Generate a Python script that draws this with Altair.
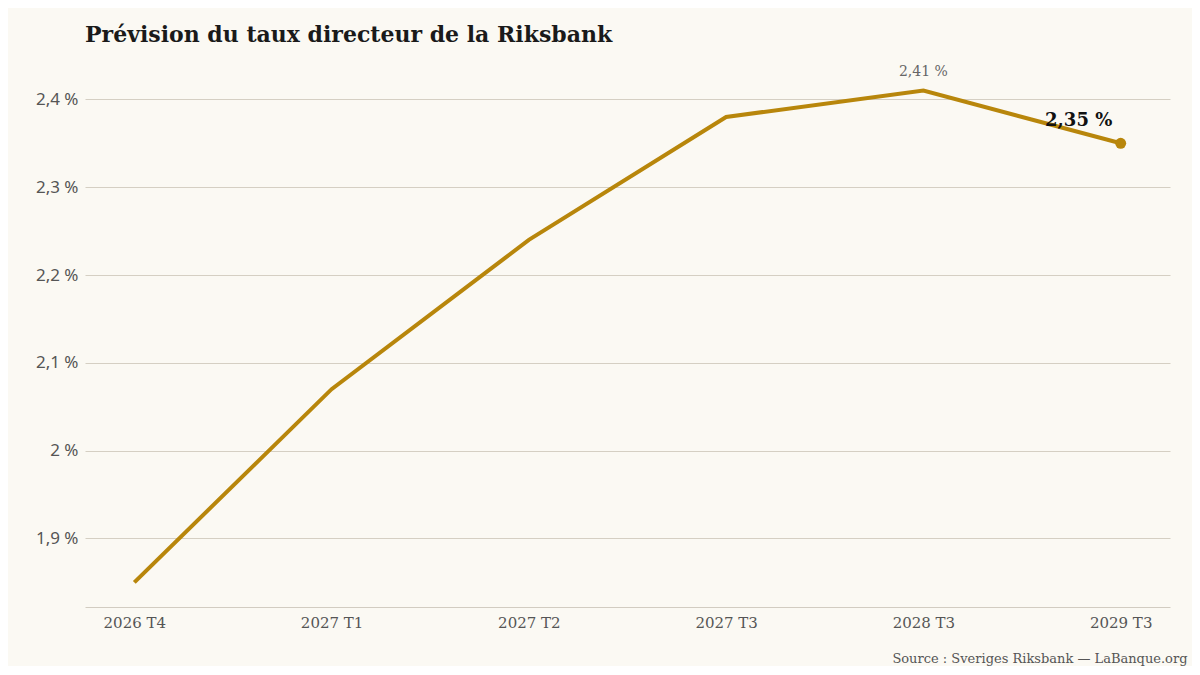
import altair as alt
import pandas as pd

quarters = ["2026 T4", "2027 T1", "2027 T2", "2027 T3", "2028 T3", "2029 T3"]
rates = [1.85, 2.07, 2.24, 2.38, 2.41, 2.35]
y_ticks = [1.9, 2.0, 2.1, 2.2, 2.3, 2.4]

df = pd.DataFrame({"q": quarters, "rate": rates})
df["label"] = df["rate"].map(lambda v: f"{v:.2f}".replace(".", ",") + " %")

peak = df[df["rate"] == df["rate"].max()]
last = df.iloc[[-1]]

SERIF = "DejaVu Serif"
SANS = "Noto Sans"
GOLD = "#b8860b"

x = alt.X("q:N", sort=quarters, scale=alt.Scale(type="point", padding=0.25),
          axis=alt.Axis(title="Source : Sveriges Riksbank — LaBanque.org",
                        titleAnchor="end", titleAlign="right", titleX=1102, titleY=51,
                        titleFont=SERIF, titleFontSize=13, titleFontWeight="normal",
                        titleColor="#555555", titleBaseline="middle",
                        labelAngle=0, labelFont=SERIF, labelFontSize=15, labelColor="#555555",
                        labelPadding=8, ticks=False, domain=True, domainColor="#d2ccc1",
                        grid=False))
y = alt.Y("rate:Q", scale=alt.Scale(domain=[1.822, 2.438], nice=False, zero=False),
          axis=alt.Axis(title=None, values=y_ticks, ticks=False, domain=False,
                        labelExpr="replace(format(datum.value, '~g'), '.', ',') + ' %'",
                        labelFont=SANS, labelFontSize=17, labelColor="#555555",
                        labelPadding=7, gridColor="#d5cfc3", gridWidth=1))

line = alt.Chart(df).mark_line(color=GOLD, strokeWidth=4).encode(x=x, y=y)
dot = alt.Chart(last).mark_point(filled=True, color=GOLD, size=120, opacity=1).encode(x=x, y=y)
peak_lbl = alt.Chart(peak).mark_text(font=SERIF, fontSize=14, color="#666666", dy=-19).encode(
    x=x, y=y, text="label:N")
last_lbl = alt.Chart(last).mark_text(font=SERIF, fontSize=18, fontWeight="bold", color="#111111",
                                     dx=-42, dy=-22).encode(x=x, y=y, text="label:N")

chart = alt.layer(line, dot, peak_lbl, last_lbl).properties(
    width=1085, height=541,
    title=alt.TitleParams("Prévision du taux directeur de la Riksbank", anchor="start",
                          font=SERIF, fontSize=22, fontWeight="bold", color="#1a1a1a",
                          offset=18, frame="group"),
    background="#fbf9f3",
    padding={"left": 77, "top": 58, "right": 22, "bottom": 59},
    autosize=alt.AutoSizeParams(type="none"),
).configure_view(stroke=None)

chart.save("out.html", embed_options={"renderer": "svg", "actions": False})
